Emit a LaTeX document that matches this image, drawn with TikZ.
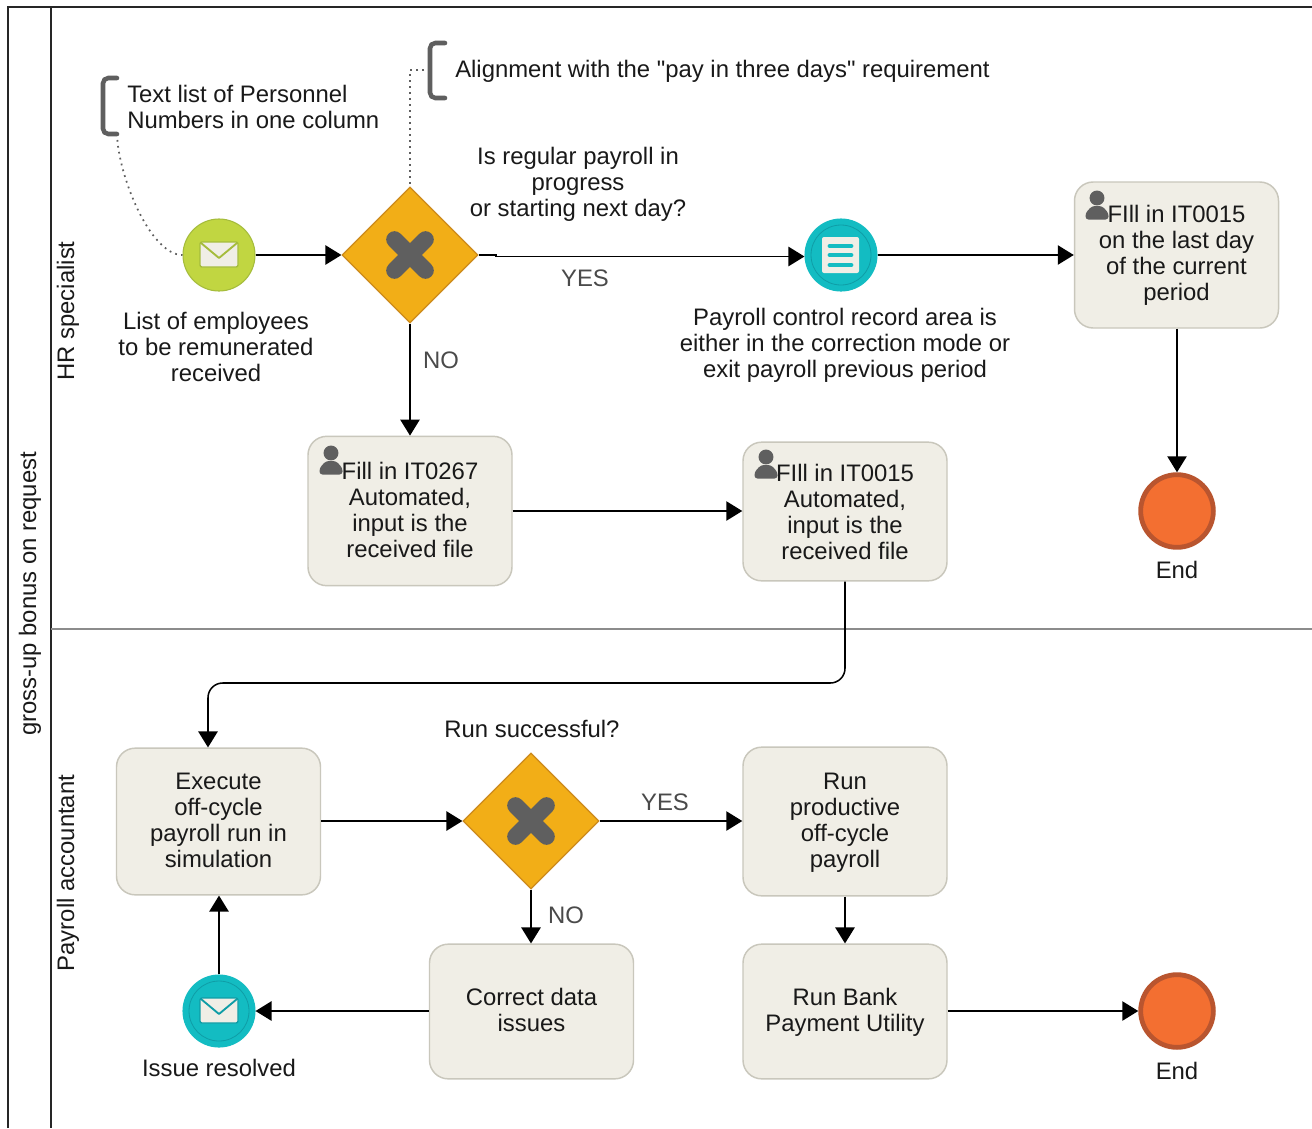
\documentclass[tikz,border=0pt]{standalone}
\usepackage{fontspec}
\setmainfont{Liberation Sans}
\newfontfamily\plainf{Liberation Sans}
\usetikzlibrary{shapes.geometric,arrows.meta}
\definecolor{taskfill}{HTML}{F0EEE6}
\definecolor{taskline}{HTML}{C9C7BC}
\definecolor{gold}{HTML}{F2AE17}
\definecolor{goldline}{HTML}{CC8A1C}
\definecolor{xgrey}{HTML}{5F5F5F}
\definecolor{lime}{HTML}{C1D641}
\definecolor{limeline}{HTML}{A5BC3C}
\definecolor{teal1}{HTML}{13BCC2}
\definecolor{tealline}{HTML}{0F9DA6}
\definecolor{endfill}{HTML}{F36F31}
\definecolor{endline}{HTML}{B9552F}
\definecolor{lblgrey}{HTML}{4A4A4A}
\tikzset{
  txt/.style={font=\fontsize{17.9}{19.5}\selectfont,align=center,inner sep=0pt,text=black!90},
  lbl/.style={txt,text=lblgrey},
  tasknode/.style={txt,draw=taskline,line width=1.1pt,fill=taskfill,rounded corners=14pt,
     minimum width=153pt,inner sep=0pt},
  gate/.style={diamond,aspect=1,draw=goldline,line width=.9pt,fill=gold,minimum width=102pt,minimum height=102pt,inner sep=0pt},
  startev/.style={circle,draw=limeline,line width=.8pt,fill=lime,minimum size=54pt,inner sep=0pt},
  interev/.style={circle,draw=teal1,line width=.8pt,fill=teal1,minimum size=54pt,inner sep=0pt},
  endev/.style={circle,draw=endline,line width=3.6pt,fill=endfill,minimum size=54.5pt,inner sep=0pt},
  flow/.style={draw=black,line width=1.15pt,-{Triangle[length=12pt,width=14.5pt]}},
  note/.style={draw=xgrey,line width=3.4pt,rounded corners=4pt,line cap=round},
  dots/.style={draw=xgrey,line width=1.3pt,dash pattern=on 1.3pt off 3.2pt},
  pool/.style={draw=black!85,line width=1.5pt},
  xarm/.style={draw=xgrey,line width=12.5pt,line cap=round},
}
\newcommand{\xmark}[2]{%
  \draw[xarm] (#1-15.5,#2-15.5) -- (#1+15.5,#2+15.5);
  \draw[xarm] (#1-15.5,#2+15.5) -- (#1+15.5,#2-15.5);}
\newcommand{\person}[2]{%
  \fill[xgrey] (#1,#2) circle (5.6pt);
  \fill[xgrey,rounded corners=2.2pt] (#1-11.5,#2+21.5) -- (#1-11.5,#2+15) -- (#1-5,#2+8) -- (#1+5,#2+8) -- (#1+11.5,#2+15) -- (#1+11.5,#2+21.5) -- cycle;}
\newcommand{\envel}[3]{%
  \draw[#3,line width=1pt,fill=taskfill,rounded corners=1.5pt] (#1-19,#2-13) rectangle (#1+19,#2+12);
  \draw[#3,line width=1.4pt,line join=round] (#1-18,#2-12) -- (#1,#2+3) -- (#1+18,#2-12);}
% text block whose height (first arg) or depth (second) is padded, to nudge it inside its box
\newcommand{\lines}[3]{\raisebox{0pt}[\dimexpr\height+#1\relax][\dimexpr\depth+#2\relax]{\begin{tabular}{@{}c@{}}#3\end{tabular}}}
\begin{document}
\begin{tikzpicture}[x=.75pt,y=-.75pt]
\useasboundingbox (0,0) rectangle (1312,1128);
\fill[white] (0,0) rectangle (1312,1128);
% pool
\coordinate (pTL) at (8,7);
\coordinate (pTR) at (1312,7);
\coordinate (pBL) at (8,1128);
\coordinate (lT) at (51,7);
\coordinate (lB) at (51,1128);
\coordinate (dL) at (51,629);
\coordinate (dR) at (1312,629);
\draw[pool] (pBL) -- (pTL) -- (pTR);
\draw[pool] (lT) -- (lB);
\draw[draw=black!45,line width=1.2pt] (dL) -- (dR);
\node[txt,rotate=90] (poolname) at (30,594) {gross-up bonus on request};
\node[txt,rotate=90] (lane1) at (68,311) {HR specialist};
\node[txt,rotate=90] (lane2) at (68,873) {Payroll accountant};
% nodes
\node[startev] (start) at (219,255) {};
\node[gate] (gw1) at (410,255) {};
\node[interev] (ctrl) at (841,255) {};
\node[tasknode,minimum height=109.5pt] (t15a) at (1176.5,255) {\lines{1.5pt}{0pt}{FIll in IT0015\\on the last day\\of the current\\period}};
\node[tasknode,minimum height=112pt] (t267) at (410,511) {\lines{3pt}{0pt}{Fill in IT0267\\Automated,\\input is the\\received file}};
\node[tasknode,minimum height=104pt] (t15b) at (845,511.5) {FIll in IT0015\\Automated,\\input is the\\received file};
\node[endev] (end1) at (1177,511) {};
\node[tasknode,minimum height=110pt] (exec) at (218.5,821.5) {\lines{3pt}{0pt}{Execute\\off-cycle\\payroll run in\\simulation}};
\node[gate] (gw2) at (531,821) {};
\node[tasknode,minimum height=111.5pt] (prod) at (845,821.5) {\lines{3pt}{0pt}{Run\\productive\\off-cycle\\payroll}};
\node[tasknode,minimum height=101pt] (fix) at (531.5,1011.5) {\lines{3pt}{0pt}{Correct data\\issues}};
\node[tasknode,minimum height=101pt] (bank) at (845,1011.5) {\lines{3pt}{0pt}{Run Bank\\Payment Utility}};
\node[interev] (issue) at (219,1011) {};
\node[endev] (end2) at (1177,1011) {};
% icons
\envel{219}{255}{limeline}
\xmark{410}{255}
\xmark{531}{821}
\draw[tealline,line width=.6pt] (ctrl.center) circle (22.5pt);
\draw[tealline,line width=.6pt] (issue.center) circle (22.5pt);
\fill[taskfill,rounded corners=1.5pt] (822,237) rectangle (859,273);
\foreach \yy in {246,255,265} \draw[teal1,line width=3.6pt,line cap=round] (830,\yy) -- (851,\yy);
\envel{219}{1011}{tealline}
\person{1097}{198}
\person{331}{453}
\person{766}{457}
% labels
\node[txt,align=left,anchor=west] (a1) at (127,106.5) {Text list of Personnel\\Numbers in one column};
\node[txt,anchor=west] (a2) at (455,71.5) {Alignment with the {\plainf "}pay in three days{\plainf "} requirement};
\node[txt] (q1) at (578,184) {Is regular payroll in\\progress\\or starting next day?};
\node[txt] (l1) at (216,347) {List of employees\\to be remunerated\\received};
\node[txt] (l2) at (845,345) {Payroll control record area is\\either in the correction mode or\\exit payroll previous period};
\node[txt] (l3) at (1177,570) {End};
\node[txt] (q2) at (532,729) {Run successful?};
\node[txt] (l4) at (219,1068) {Issue resolved};
\node[txt] (l5) at (1177,1070.5) {End};
\node[lbl] (y1) at (585,278) {YES};
\node[lbl] (n1) at (441,360) {NO};
\node[lbl] (y2) at (665,802) {YES};
\node[lbl] (n2) at (566,915) {NO};
% annotations
\coordinate (b1t) at (117,78);
\coordinate (b1b) at (117,134);
\coordinate (b2t) at (445,43);
\coordinate (b2b) at (445,98);
\draw[note] (b1t) -- (103,78) -- (103,134) -- (b1b);
\draw[note] (b2t) -- (430,43) -- (430,98) -- (b2b);
\coordinate (b2m) at (430,70);
\coordinate (b2c) at (410,70);
\draw[dots] (b1b) .. controls (118,175) and (150,255) .. (start.west);
\draw[dots] (b2m) -- (b2c) -- (gw1.north);
% flows
\coordinate (kink1) at (496,255);
\coordinate (kink2) at (496,256.5);
\coordinate (route) at (208,683);
\draw[flow] (start.east) -- (gw1.west);
\draw[flow] (gw1.east) -- (kink1) -- (kink2) -- (kink2 -| ctrl.west);
\draw[flow] (ctrl.east) -- (t15a.west);
\draw[flow] (gw1.south) -- (t267.north);
\draw[flow] (t267.east) -- (t267.east -| t15b.west);
\draw[flow] (end1.north |- t15a.south) -- (end1.north);
\draw[flow,rounded corners=11pt] (t15b.south) -- (t15b.south |- route) -- (route) -- (exec.north -| route);
\draw[flow] (exec.east |- gw2.west) -- (gw2.west);
\draw[flow] (gw2.east) -- (gw2.east -| prod.west);
\draw[flow] (gw2.south) -- (gw2.south |- fix.north);
\draw[flow] (prod.south) -- (bank.north);
\draw[flow] (bank.east |- end2.west) -- (end2.west);
\draw[flow] (fix.west |- issue.east) -- (issue.east);
\draw[flow] (issue.north) -- (issue.north |- exec.south);
\end{tikzpicture}
\end{document}
